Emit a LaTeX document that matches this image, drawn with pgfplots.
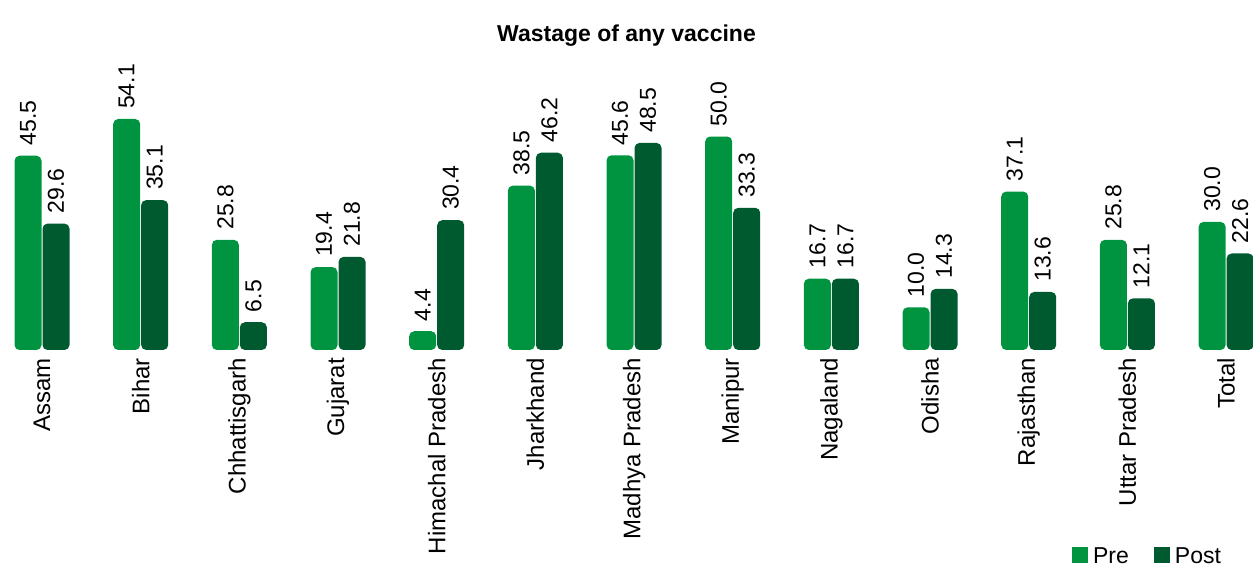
\documentclass[border=0pt]{standalone}
\usepackage{fontspec}
\setmainfont{Liberation Sans}
\usepackage{pgfplots}
\pgfplotsset{compat=1.18}
\definecolor{preC}{RGB}{0,148,64}
\definecolor{postC}{RGB}{0,90,47}
\begin{document}
\begin{tikzpicture}
\useasboundingbox (0pt,0pt) rectangle (1253pt,570pt);
\begin{axis}[
  at={(0pt,220pt)}, anchor=south west,
  scale only axis,
  width=1253pt, height=350pt,
  xmin=-0.4257, xmax=12.273,
  ymin=0, ymax=81.97,
  ybar=1pt, bar width=27pt,
  axis line style={draw=none},
  major tick length=0pt,
  ytick=\empty,
  xtick={0,1,2,3,4,5,6,7,8,9,10,11,12},
  xticklabels={Assam,Bihar,Chhattisgarh,Gujarat,Himachal Pradesh,Jharkhand,Madhya Pradesh,Manipur,Nagaland,Odisha,Rajasthan,Uttar Pradesh,Total},
  xticklabel style={rotate=90, anchor=east, inner ysep=0pt, inner xsep=8pt, font=\fontsize{24}{26}\selectfont},
  nodes near coords,
  nodes near coords style={rotate=90, anchor=west, inner ysep=0pt, inner xsep=10pt, font=\fontsize{23}{25}\selectfont, black},
  /pgf/number format/.cd, fixed, fixed zerofill, precision=1, assume math mode=true,
  /pgfplots/.cd,
  title={\bfseries Wastage of any vaccine},
  title style={at={(axis description cs:0.5,0.88)}, anchor=center, yshift=0pt, font=\fontsize{23}{25}\selectfont},
  legend columns=2,
  legend style={at={(axis description cs:0.917,-0.589)}, anchor=center, draw=none, fill=none,
    font=\fontsize{23}{25}\selectfont,
    /tikz/every even column/.append style={column sep=20pt},
    nodes={inner sep=2pt, inner xsep=5pt}},
  legend image code/.code={\fill[#1, rounded corners=0pt] (0pt,-7pt) rectangle (16pt,9pt);},
]
\addplot[fill=preC, draw=none, rounded corners=5pt] coordinates {
 (0,45.5) (1,54.1) (2,25.8) (3,19.4) (4,4.4) (5,38.5) (6,45.6) (7,50.0) (8,16.7) (9,10.0) (10,37.1) (11,25.8) (12,30.0)};
\addplot[fill=postC, draw=none, rounded corners=5pt] coordinates {
 (0,29.6) (1,35.1) (2,6.5) (3,21.8) (4,30.4) (5,46.2) (6,48.5) (7,33.3) (8,16.7) (9,14.3) (10,13.6) (11,12.1) (12,22.6)};
\legend{Pre,Post}
\end{axis}
\end{tikzpicture}
\end{document}
